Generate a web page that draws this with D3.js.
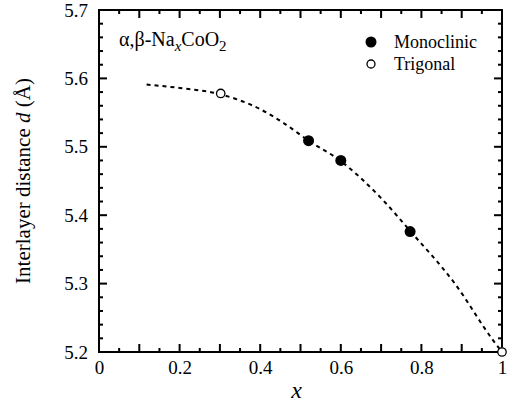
<!DOCTYPE html>
<html>
<head>
<meta charset="utf-8">
<script src="https://cdn.jsdelivr.net/npm/d3@7"></script>
</head>
<body style="margin:0;background:#fff">
<svg id="chart" width="507" height="410"></svg>
<script>
// data
var monoX = [0.52, 0.60, 0.772];
var monoY = [5.509, 5.480, 5.376];
var trigX = [0.302, 1.0];
var trigY = [5.578, 5.2];
// dashed guide curve
var fitX = [0.118, 0.20, 0.30, 0.40, 0.46, 0.52, 0.60, 0.70, 0.772, 0.883, 0.978, 1.0];
var fitY = [5.591, 5.586, 5.577, 5.555, 5.534, 5.509, 5.479, 5.425, 5.377, 5.300, 5.217, 5.2];
var xTickLabels = [0, 0.2, 0.4, 0.6, 0.8, 1];
var yTickLabels = [5.2, 5.3, 5.4, 5.5, 5.6, 5.7];
var xMajor = [0, 0.1, 0.2, 0.3, 0.4, 0.5, 0.6, 0.7, 0.8, 0.9, 1];
var xMinor = [0.05, 0.15, 0.25, 0.35, 0.45, 0.55, 0.65, 0.75, 0.85, 0.95];
var yMinor = [5.22, 5.24, 5.26, 5.28, 5.32, 5.34, 5.36, 5.38, 5.42, 5.44, 5.46, 5.48,
              5.52, 5.54, 5.56, 5.58, 5.62, 5.64, 5.66, 5.68];

var FONT = "Liberation Serif";
var svg = d3.select("#chart");
var margin = {top: 10, right: 5, bottom: 58, left: 99};
var width = 507 - margin.left - margin.right,
    height = 410 - margin.top - margin.bottom;

var x = d3.scaleLinear().domain([0, 1]).range([0, width]);
var y = d3.scaleLinear().domain([5.2, 5.7]).range([height, 0]);

var g = svg.append("g")
    .attr("transform", "translate(" + margin.left + "," + margin.top + ")");

// frame
g.append("rect")
    .attr("width", width).attr("height", height)
    .attr("fill", "none").attr("stroke", "#000").attr("stroke-width", 2);

// inward ticks on all four sides
var tickData = [];
xMajor.forEach(function(v) { tickData.push({v: v, axis: "x", len: 8}); });
xMinor.forEach(function(v) { tickData.push({v: v, axis: "x", len: 4}); });
yTickLabels.forEach(function(v) { tickData.push({v: v, axis: "y", len: 8}); });
yMinor.forEach(function(v) { tickData.push({v: v, axis: "y", len: 4}); });

var ticks = g.append("g").attr("class", "ticks");
ticks.selectAll("rect.tb").data(tickData).enter().append("rect")
    .attr("class", "tb")
    .attr("fill", "#000")
    .attr("x", function(d) { return d.axis === "x" ? x(d.v) - 1 : 0; })
    .attr("y", function(d) { return d.axis === "x" ? height - d.len : y(d.v) - 1; })
    .attr("width", function(d) { return d.axis === "x" ? 2 : d.len; })
    .attr("height", function(d) { return d.axis === "x" ? d.len : 2; });
ticks.selectAll("rect.tt").data(tickData).enter().append("rect")
    .attr("class", "tt")
    .attr("fill", "#000")
    .attr("x", function(d) { return d.axis === "x" ? x(d.v) - 1 : width - d.len; })
    .attr("y", function(d) { return d.axis === "x" ? 0 : y(d.v) - 1; })
    .attr("width", function(d) { return d.axis === "x" ? 2 : d.len; })
    .attr("height", function(d) { return d.axis === "x" ? d.len : 2; });

// tick labels
var xAxis = d3.axisBottom(x).tickValues(xTickLabels).tickSize(0).tickPadding(9)
    .tickFormat(function(d) { return d === 0 || d === 1 ? d3.format("d")(d) : d3.format(".1f")(d); });
var yAxis = d3.axisLeft(y).tickValues(yTickLabels).tickSize(0).tickPadding(11)
    .tickFormat(d3.format(".1f"));

g.append("g")
    .attr("transform", "translate(0," + height + ")")
    .call(xAxis)
    .attr("font-family", FONT).attr("font-size", 19)
    .call(function(s) { s.select(".domain").remove(); });

g.append("g")
    .call(yAxis)
    .attr("font-family", FONT).attr("font-size", 19)
    .call(function(s) { s.select(".domain").remove(); });

// axis titles
svg.append("text")
    .attr("x", margin.left + width / 2 - 4)
    .attr("y", 398)
    .attr("text-anchor", "middle")
    .attr("font-family", FONT)
    .attr("font-size", 24)
    .attr("font-style", "italic")
    .text("x");

var yt = svg.append("text")
    .attr("transform", "translate(30," + (margin.top + height / 2) + ") rotate(-90)")
    .attr("text-anchor", "middle")
    .attr("font-family", FONT)
    .attr("font-size", 21);
yt.append("tspan").text("Interlayer distance ");
yt.append("tspan").attr("font-style", "italic").text("d");
yt.append("tspan").text(" (Å)");

// dashed curve
var line = d3.line()
    .x(function(d) { return x(d[0]); })
    .y(function(d) { return y(d[1]); })
    .curve(d3.curveMonotoneX);
g.append("path")
    .datum(d3.zip(fitX, fitY))
    .attr("fill", "none")
    .attr("stroke", "#000")
    .attr("stroke-width", 2)
    .attr("stroke-dasharray", "4,4")
    .attr("d", line);

// markers
g.selectAll("circle.mono").data(d3.zip(monoX, monoY)).enter().append("circle")
    .attr("class", "mono")
    .attr("cx", function(d) { return x(d[0]); })
    .attr("cy", function(d) { return y(d[1]); })
    .attr("r", 5.5)
    .attr("fill", "#000");

g.selectAll("circle.trig").data(d3.zip(trigX, trigY)).enter().append("circle")
    .attr("class", "trig")
    .attr("cx", function(d) { return x(d[0]); })
    .attr("cy", function(d) { return y(d[1]); })
    .attr("r", 4.2)
    .attr("fill", "#fff")
    .attr("stroke", "#000")
    .attr("stroke-width", 1.3);

// compound label
var lab = svg.append("text")
    .attr("x", 119).attr("y", 46)
    .attr("font-family", FONT)
    .attr("font-size", 20);
lab.append("tspan").text("α,β-Na");
lab.append("tspan").attr("dy", 5).attr("font-size", 15).attr("font-style", "italic").text("x");
lab.append("tspan").attr("dy", -5).text("CoO");
lab.append("tspan").attr("dy", 5).attr("font-size", 15).text("2");

// legend
var legend = svg.append("g").attr("font-family", FONT).attr("font-size", 18);
legend.append("circle").attr("cx", 371).attr("cy", 42).attr("r", 5.5).attr("fill", "#000");
legend.append("text").attr("x", 394).attr("y", 48).text("Monoclinic");
legend.append("circle").attr("cx", 371).attr("cy", 64).attr("r", 4).attr("fill", "#fff")
    .attr("stroke", "#000").attr("stroke-width", 1.3);
legend.append("text").attr("x", 394).attr("y", 70).text("Trigonal");
</script>
</body>
</html>
